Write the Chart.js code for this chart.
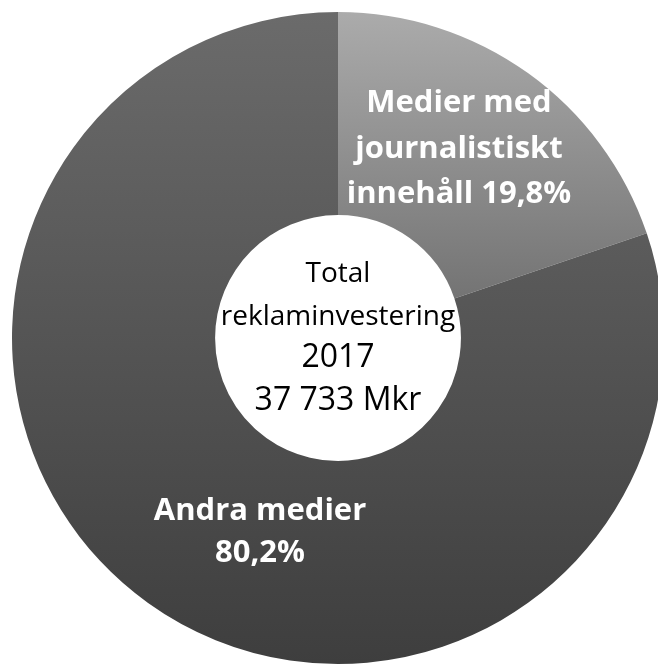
<!DOCTYPE html>
<html>
<head>
<meta charset="utf-8">
<script src="https://cdn.jsdelivr.net/npm/chart.js@4/dist/chart.umd.min.js"></script>
<style>
  html, body { margin:0; padding:0; background:#fff; overflow:hidden; }
  #wrap { width:676px; height:676px; position:relative; }
</style>
</head>
<body>
<div id="wrap"><canvas id="pie"></canvas></div>
<script>
// data
const categories = ['Medier med journalistiskt innehåll', 'Andra medier'];
const shares = [19.8, 80.2];
const shareLabels = ['19,8%', '80,2%'];
const centerLines = ['Total', 'reklaminvestering', '2017', '37 733 Mkr'];

const FONT = '"Open Sans", Lato, sans-serif';

// gradient per slice, vertical across the chart area
function sliceFill(ctx){
  const chart = ctx.chart;
  const area = chart.chartArea;
  if(!area) return '#666';
  const g = chart.ctx.createLinearGradient(0, area.top, 0, area.bottom);
  if(ctx.dataIndex === 0){
    g.addColorStop(0, '#ababab');
    g.addColorStop(0.5, '#6c6c6c');
    g.addColorStop(1, '#6c6c6c');
  } else {
    g.addColorStop(0, '#6b6b6b');
    g.addColorStop(1, '#3e3e3e');
  }
  return g;
}

// text on slices + centre text
const textPlugin = {
  id: 'pieText',
  afterDraw(chart){
    const c = chart.ctx;
    const arc = chart.getDatasetMeta(0).data[0];
    const cx = arc.x, cy = arc.y;
    c.save();
    c.textAlign = 'center';
    c.textBaseline = 'alphabetic';

    // centre - the year and sum lines are a bit bigger
    c.fillStyle = '#000';
    centerLines.forEach((t,i)=>{
      c.font = (i < 2 ? '400 28px ' : '400 32px ') + FONT;
      c.fillText(t, cx, cy - 56 + i*42.7);
    });

    // slice labels
    c.fillStyle = '#fff';
    c.font = '700 31px ' + FONT;
    const l1 = ['Medier med', 'journalistiskt', 'innehåll ' + shareLabels[0]];
    l1.forEach((t,i)=> c.fillText(t, cx + 121, cy - 226 + i*45.5));
    const l2 = ['Andra medier', shareLabels[1]];
    l2.forEach((t,i)=> c.fillText(t, cx - 78, cy + 182 + i*42));
    c.restore();
  }
};

new Chart(document.getElementById('pie'), {
  type: 'doughnut',
  data: {
    labels: categories,
    datasets: [{
      data: shares,
      backgroundColor: sliceFill,
      borderWidth: 0
    }]
  },
  options: {
    responsive: true,
    maintainAspectRatio: false,
    animation: false,
    cutout: '37.7%',
    layout: { padding: 12 },
    plugins: { legend: { display:false }, tooltip: { enabled:false } }
  },
  plugins: [textPlugin]
});
</script>
</body>
</html>
